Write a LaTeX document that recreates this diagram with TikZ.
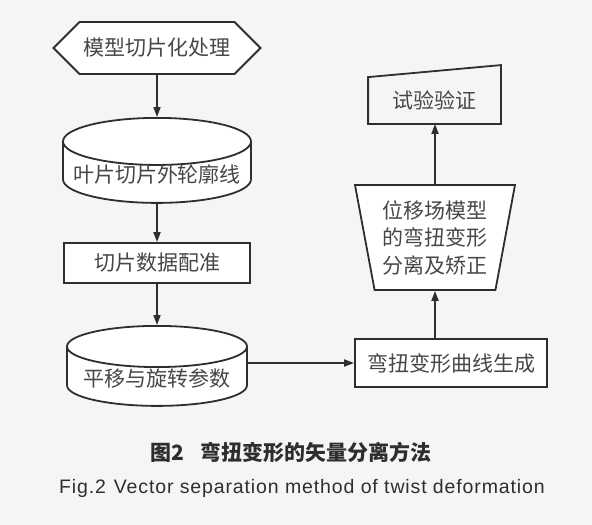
\documentclass[tikz,border=0pt]{standalone}
\usepackage{fontspec}
\setsansfont{Liberation Sans}
\newfontfamily\cjk{Noto Sans CJK SC}
\usepackage{tikz}
\usetikzlibrary{arrows.meta,positioning,shapes.geometric,shapes.symbols,calc}
\definecolor{ink}{HTML}{2E2E2E}
\definecolor{txt}{HTML}{474747}
\definecolor{paper}{HTML}{F4F5F6}
% text sunk below the top ellipse of a drum
\newcommand{\lowtext}[1]{\raisebox{-10pt}[0pt][0pt]{#1}}
\tikzset{
  >={Triangle[length=10pt,width=7pt]},
  every picture/.style={line width=1.8pt,font=\cjk\fontsize{21pt}{27.5pt}\selectfont},
  bx/.style={draw=ink,fill=white,text=txt,align=center,inner sep=2pt},
  hexa/.style={bx,signal,signal to=west and east,signal pointer angle=90,minimum width=207pt,minimum height=52pt},
  drum/.style={bx,cylinder,shape border rotate=90,aspect=0.28,inner sep=0pt,anchor=north},
  trap/.style={bx,trapezium,shape border rotate=180,trapezium left angle=76,trapezium right angle=76,trapezium stretches body},
  arr/.style={->,draw=ink},
  captxt/.style={text=ink,inner sep=0pt},
}
\begin{document}
\begin{tikzpicture}[x=1pt,y=-1pt]
  \fill[paper] (0,0) rectangle (592,525);
  \useasboundingbox (0,0) rectangle (592,525);
  % left column
  \node[hexa] (slice) at (157,48) {模型切片化处理};
  \node[drum,minimum width=188pt,minimum height=85pt] (contour) at (157,117) {\lowtext{叶片切片外轮廓线}};
  \node[bx,minimum width=186pt,minimum height=40pt] (register) at (157,263) {切片数据配准};
  \node[drum,minimum width=180pt,minimum height=80pt] (params) at (157,325) {\lowtext{平移与旋转参数}};
  % right column
  \node[bx,minimum width=192pt,minimum height=48pt] (curve) at (451,363) {弯扭变形曲线生成};
  \node[trap,minimum width=160pt,minimum height=105pt] (correct) at (435,237.5) {位移场模型\\的弯扭变形\\分离及矫正};
  \node[text=txt,minimum width=131pt,minimum height=45pt,inner sep=0pt] (test) at (434.5,100.5) {试验验证};
  \draw[ink] (test.north west) -- ([yshift=12pt]test.north east) -- (test.south east) -- (test.south west) -- cycle;
  \draw[arr] (slice) -- (contour);
  \draw[arr] (contour) -- (register);
  \draw[arr] (register) -- (params);
  \draw[arr] (params.east |- curve.west) -- (curve.west);
  \draw[arr] (correct.south |- curve.north) -- (correct.south);
  \draw[arr] (correct.north) -- (correct.north |- test.south);
  % caption
  \node[captxt,font=\cjk\bfseries\fontsize{21pt}{24pt}\selectfont] (capzh) at (291,452) {图2\hspace{0.8em}弯扭变形的矢量分离方法};
  \node[captxt,font=\sffamily\fontsize{19.5pt}{23pt}\selectfont\addfontfeature{LetterSpace=4.5}] (capen) at (302,488) {Fig.2\hspace{0.4em}Vector separation method of twist deformation};
\end{tikzpicture}
\end{document}
